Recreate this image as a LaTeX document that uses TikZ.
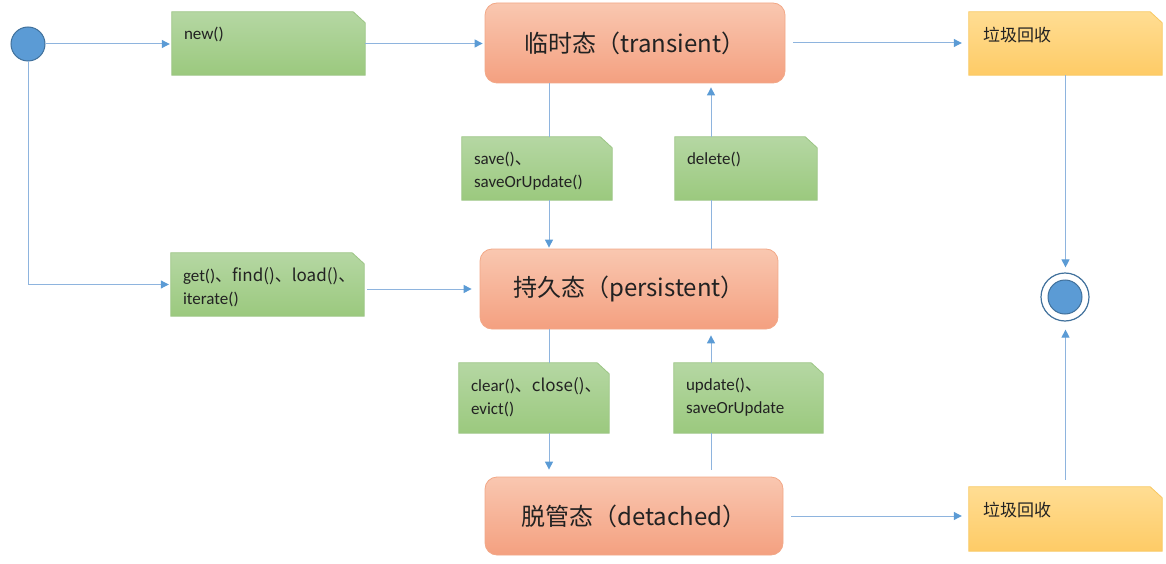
\documentclass[tikz,border=0pt]{standalone}
\usepackage{fontspec}
\setmainfont{Carlito}
\newfontfamily\cjk{Noto Sans CJK SC}
\usetikzlibrary{arrows.meta}
\definecolor{lineblue}{HTML}{8EB4DE}
\definecolor{tipblue}{HTML}{5B9BD5}
\definecolor{circfill}{HTML}{5B9BD5}
\definecolor{circdraw}{HTML}{41719C}
\definecolor{greentop}{HTML}{B5D7A3}
\definecolor{greenbot}{HTML}{9BC97E}
\definecolor{greenline}{HTML}{9CC585}
\definecolor{oratop}{HTML}{F9C7B0}
\definecolor{orabot}{HTML}{F4A080}
\definecolor{oraline}{HTML}{F2A887}
\definecolor{goldtop}{HTML}{FFDD93}
\definecolor{goldbot}{HTML}{FECB66}
\definecolor{goldline}{HTML}{F8C862}
\definecolor{textdark}{HTML}{222222}
\newcommand{\notebox}[3]{% name, draw/shade options
  \path[#2, line width=0.8pt] (#1.south west) -- (#1.north west) -- ([xshift=-12pt]#1.north east)
    -- ([yshift=-11pt]#1.north east) -- (#1.south east) -- cycle;}
\begin{document}
\begin{tikzpicture}[x=1pt,y=-1pt,
  conn/.style={draw=lineblue, line width=1pt},
  arr/.style={conn, -{Triangle[length=8pt,width=8pt,color=tipblue]}},
  noteframe/.style={rectangle, inner sep=0pt},
  greennote/.style={draw=greenline, top color=greentop, bottom color=greenbot},
  goldnote/.style={draw=goldline, top color=goldtop, bottom color=goldbot},
  statebox/.style={rectangle, rounded corners=12pt, draw=oraline, line width=0.8pt,
    top color=oratop, bottom color=orabot, minimum width=#1, text=textdark,
    font=\fontsize{24}{28}\selectfont},
  notetext/.style={anchor=north west, inner sep=0pt, align=left, text=textdark,
    font=\fontsize{17}{23}\selectfont},
]
\useasboundingbox (0,0) rectangle (1166,564);

% states
\node[statebox=300pt, minimum height=80pt] (transient) at (635,43) {\cjk{临时态（}transient\cjk{）}};
\node[statebox=298pt, minimum height=80pt] (persistent) at (629,289) {\cjk{持久态（}persistent\cjk{）}};
\node[statebox=298pt, minimum height=78pt] (detached) at (634,516) {\cjk{脱管态（}detached\cjk{）}};

% start / end
\node[circle, minimum size=34pt, inner sep=0pt, fill=circfill, draw=circdraw, line width=1pt] (start) at (28,44) {};
\node[circle, minimum size=48pt, inner sep=0pt, fill=white, draw=circdraw, line width=1.2pt] (endo) at (1065,297) {};
\node[circle, minimum size=34pt, inner sep=0pt, fill=circfill, draw=circdraw, line width=1pt] (endi) at (1065,297) {};

\coordinate (xL) at (549,0);
\coordinate (xR) at (711,0);

% note boxes
\node[noteframe, minimum width=193pt, minimum height=63pt] (new) at (268.5,43.5) {};
\notebox{new}{greennote}{}
\node[notetext] (newT) at ([xshift=12pt,yshift=-15pt]new.north west) {new()};

\node[noteframe, minimum width=193pt, minimum height=63pt] (gc1) at (1065.5,43.5) {};
\notebox{gc1}{goldnote}{}
\node[notetext] (gc1T) at ([xshift=14pt,yshift=-15pt]gc1.north west) {\cjk{垃圾回收}};

\node[noteframe, minimum width=193pt, minimum height=64pt] (gc2) at (1065.5,519) {};
\notebox{gc2}{goldnote}{}
\node[notetext] (gc2T) at ([xshift=14pt,yshift=-15pt]gc2.north west) {\cjk{垃圾回收}};

\node[noteframe, minimum width=150pt, minimum height=63pt] (save) at (537,168.5) {};
\notebox{save}{greennote}{}
\node[notetext] (saveT) at ([xshift=12pt,yshift=-15pt]save.north west) {save()\cjk{、}\\saveOrUpdate()};

\node[noteframe, minimum width=142pt, minimum height=63pt] (delete) at (746,168.5) {};
\notebox{delete}{greennote}{}
\node[notetext] (deleteT) at ([xshift=12pt,yshift=-15pt]delete.north west) {delete()};

\node[noteframe, minimum width=193pt, minimum height=63pt] (get) at (267.5,284.5) {};
\notebox{get}{greennote}{}
\node[notetext] (getT) at ([xshift=12pt,yshift=-15pt]get.north west) {get()\cjk{、}find()\cjk{、}load()\cjk{、}\\iterate()};

\node[noteframe, minimum width=150pt, minimum height=70pt] (clear) at (534,398) {};
\notebox{clear}{greennote}{}
\node[notetext] (clearT) at ([xshift=12pt,yshift=-15pt]clear.north west) {clear()\cjk{、}close()\cjk{、}\\evict()};

\node[noteframe, minimum width=149pt, minimum height=70pt] (update) at (748.5,398) {};
\notebox{update}{greennote}{}
\node[notetext] (updateT) at ([xshift=12pt,yshift=-15pt]update.north west) {update()\cjk{、}\\saveOrUpdate};

% connectors
\draw[arr, shorten >=2pt] (start.east) -- (start.east -| new.west);
\draw[arr, shorten >=2pt] (new.east) -- (new.east -| transient.west);
\draw[arr, shorten <=8pt, shorten >=7pt] (transient.east) -- (transient.east -| gc1.west);
\draw[arr, shorten >=5pt] (gc1.south) -- (gc1.south |- endo.north);
\draw[arr, shorten <=7pt, shorten >=8pt] (gc2.north) -- (gc2.north |- endo.south);
\draw[arr, shorten <=8pt, shorten >=7pt] (detached.east) -- (detached.east -| gc2.west);

\draw[arr, shorten >=2pt] (start.south) |- (get.west);
\draw[arr, shorten <=3pt, shorten >=8pt] (persistent.west -| get.east) -- (persistent.west);

\draw[conn] (transient.south -| xL) -- (save.north -| xL);
\draw[arr, shorten >=1pt] (save.south -| xL) -- (persistent.north -| xL);
\draw[conn] (persistent.north -| xR) -- (delete.south -| xR);
\draw[arr, shorten >=4pt] (delete.north -| xR) -- (transient.south -| xR);
\draw[conn] (persistent.south -| xL) -- (clear.north -| xL);
\draw[arr, shorten >=7pt] (clear.south -| xL) -- (detached.north -| xL);
\draw[conn, shorten <=7pt] (detached.north -| xR) -- (update.south -| xR);
\draw[arr, shorten >=6pt] (update.north -| xR) -- (persistent.south -| xR);
\end{tikzpicture}
\end{document}
